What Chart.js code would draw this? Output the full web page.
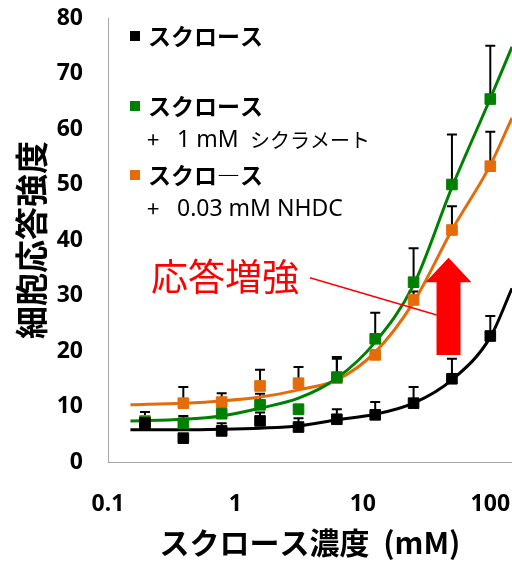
<!DOCTYPE html>
<html>
<head>
<meta charset="utf-8">
<script src="https://cdn.jsdelivr.net/npm/chart.js@4"></script>
<style>
  html, body { margin: 0; padding: 0; background: #fff; }
  #wrap { width: 512px; height: 564px; }
</style>
</head>
<body>
<div id="wrap"><canvas id="chart" width="512" height="564"></canvas></div>
<script>
// measured points (mM)
const conc = [0.195, 0.39, 0.78, 1.56, 3.125, 6.25, 12.5, 25, 50, 100];
const sucrose = [7.0, 4.3, 5.6, 7.4, 6.3, 7.7, 8.5, 10.6, 15.0, 22.7];
const sucroseErr = [2.0, 0, 1.4, 1.5, 1.6, 1.8, 2.3, 2.9, 3.6, 3.6];
const cyclamate = [7.2, 7.0, 8.7, 10.3, 9.5, 15.3, 22.2, 32.4, 50.0, 65.4];
const cyclamateErr = [0, 1.3, 1.2, 2.0, 0.8, 3.3, 4.7, 6.1, 9.0, 9.6];
const nhdc = [7.4, 10.6, 10.8, 13.7, 14.2, 15.1, 19.3, 29.2, 41.8, 53.3];
const nhdcErr = [0.8, 2.9, 1.6, 2.9, 2.9, 3.8, 0, 1.5, 4.3, 6.2];

// fitted curves
const fitConc = [0.15, 0.39, 0.78, 1.56, 3.125, 6.25, 12.5, 25, 50, 100, 148];
const sucroseFit = [5.8, 5.8, 5.9, 6.1, 6.5, 7.6, 8.6, 10.6, 14.8, 22.5, 31.3];
const cyclamateFit = [7.4, 7.7, 8.3, 9.7, 11.5, 15.1, 21.6, 31.9, 49.5, 65.5, 74.8];
const nhdcFit = [10.3, 10.6, 11.0, 11.7, 13.0, 14.8, 19.8, 28.8, 41.8, 53.5, 62];

const xTicks = [0.1, 1, 10, 100];
const legendLabels = [
    ['スクロース', '', ''],
    ['スクロース', '1 mM', 'シクラメート'],
    ['スクロ―ス', '0.03 mM NHDC', '']
];

// annotation anchor (data coords)
const arrowX = 47, arrowFrom = 19.3, arrowHead = 32.4, arrowTip = 36.8;
const noteText = '応答増強';
const notePos = [0.83, 33.3];
const noteLine = [[3.84, 33.2], [38, 26.5]];

const BLACK = '#000000', GREEN = '#008000', ORANGE = '#E46C0A';
const JP = '"Noto Sans CJK JP", "Noto Sans", sans-serif';

function pts(xs, ys) {
    return xs.map(function (x, i) { return { x: x, y: ys[i] }; });
}

function markerSet(ys, color, order) {
    return {
        data: pts(conc, ys), showLine: false, pointStyle: 'rect',
        pointRadius: 7.5, pointHoverRadius: 7.5, borderWidth: 1,
        backgroundColor: color, borderColor: color, order: order
    };
}
function curveSet(ys, color, order) {
    return {
        data: pts(fitConc, ys), showLine: true, pointRadius: 0,
        borderColor: color, borderWidth: 3, cubicInterpolationMode: 'monotone',
        fill: false, order: order
    };
}

const errSets = [[0, sucroseErr], [1, cyclamateErr], [2, nhdcErr]];

// stretch the plot to the right edge of the canvas
const fullWidth = {
    id: 'fullWidth',
    afterLayout(chart) {
        const x = chart.scales.x;
        chart.chartArea.right = chart.width;
        chart.chartArea.width = chart.width - chart.chartArea.left;
        x.right = chart.width;
        x.width = x.right - x.left;
        x.configure();
    }
};

const errorBars = {
    id: 'errorBars',
    beforeDatasetsDraw(chart) {
        const ctx = chart.ctx, xs = chart.scales.x, ys = chart.scales.y;
        ctx.save();
        ctx.strokeStyle = '#000';
        ctx.lineWidth = 2;
        errSets.forEach(function (e) {
            const data = chart.data.datasets[e[0]].data;
            e[1].forEach(function (err, i) {
                if (!err) return;
                const px = xs.getPixelForValue(data[i].x);
                const y0 = ys.getPixelForValue(data[i].y);
                const y1 = ys.getPixelForValue(data[i].y + err);
                ctx.beginPath();
                ctx.moveTo(px, y0); ctx.lineTo(px, y1);
                ctx.moveTo(px - 5, y1); ctx.lineTo(px + 5, y1);
                ctx.stroke();
            });
        });
        ctx.restore();
    }
};

const extras = {
    id: 'extras',
    afterDatasetsDraw(chart) {
        const ctx = chart.ctx, xs = chart.scales.x, ys = chart.scales.y;
        const area = chart.chartArea;
        ctx.save();

        // legend
        const colors = [BLACK, GREEN, ORANGE];
        const rowY = [36, 106, 175];
        ctx.textBaseline = 'middle';
        legendLabels.forEach(function (lab, i) {
            const y = rowY[i];
            ctx.fillStyle = colors[i];
            ctx.fillRect(area.left + 22, y - 5, 10, 10);
            ctx.fillStyle = '#000';
            ctx.font = 'bold 23px ' + JP;
            ctx.fillText(lab[0], area.left + 40, y);
            if (lab[1]) {
                ctx.font = '22px ' + JP;
                ctx.fillText('+', area.left + 39, y + 34);
                ctx.font = '23px "Noto Sans", sans-serif';
                ctx.fillText(lab[1], area.left + 69, y + 34);
            }
            if (lab[2]) {
                ctx.font = '20px ' + JP;
                ctx.fillText(lab[2], area.left + 142, y + 34);
            }
        });

        // red pointer line and text
        ctx.strokeStyle = '#FF0000';
        ctx.lineWidth = 1.5;
        ctx.beginPath();
        ctx.moveTo(xs.getPixelForValue(noteLine[0][0]), ys.getPixelForValue(noteLine[0][1]));
        ctx.lineTo(xs.getPixelForValue(noteLine[1][0]), ys.getPixelForValue(noteLine[1][1]));
        ctx.stroke();
        ctx.fillStyle = '#FF0000';
        ctx.font = '37px ' + JP;
        ctx.textAlign = 'center';
        ctx.fillText(noteText, xs.getPixelForValue(notePos[0]), ys.getPixelForValue(notePos[1]));

        // big up arrow
        const ax = xs.getPixelForValue(arrowX);
        const yb = ys.getPixelForValue(arrowFrom);
        const yh = ys.getPixelForValue(arrowHead);
        const yt = ys.getPixelForValue(arrowTip);
        ctx.beginPath();
        ctx.moveTo(ax - 12, yb);
        ctx.lineTo(ax - 12, yh);
        ctx.lineTo(ax - 23, yh);
        ctx.lineTo(ax, yt);
        ctx.lineTo(ax + 23, yh);
        ctx.lineTo(ax + 12, yh);
        ctx.lineTo(ax + 12, yb);
        ctx.closePath();
        ctx.fill();
        ctx.restore();
    }
};

function noPad(scale) {
    scale.paddingLeft = 0;
    scale.paddingRight = 0;
    scale.paddingTop = 0;
    scale.paddingBottom = 0;
}

new Chart(document.getElementById('chart'), {
    type: 'scatter',
    data: {
        datasets: [
            markerSet(sucrose, BLACK, 1),
            markerSet(cyclamate, GREEN, 2),
            markerSet(nhdc, ORANGE, 3),
            curveSet(sucroseFit, BLACK, 4),
            curveSet(cyclamateFit, GREEN, 5),
            curveSet(nhdcFit, ORANGE, 6)
        ]
    },
    options: {
        responsive: false,
        animation: false,
        events: [],
        layout: { padding: { top: 18, right: 0, left: 0, bottom: 0 } },
        plugins: { legend: { display: false }, tooltip: { enabled: false } },
        scales: {
            x: {
                type: 'logarithmic',
                min: 0.1,
                max: 148,
                afterBuildTicks: function (scale) {
                    scale.ticks = xTicks.map(function (v) { return { value: v }; });
                },
                afterFit: function (scale) { scale.height = 102; noPad(scale); },
                grid: { display: false, drawTicks: false },
                border: { color: '#A6A6A6', width: 1 },
                ticks: {
                    padding: 29, color: '#000', maxRotation: 0, autoSkip: false,
                    font: { family: '"Noto Sans", sans-serif', size: 23, weight: 'bold' },
                    callback: function (v) { return String(v); }
                },
                title: {
                    display: true, text: 'スクロース濃度  (mM)', color: '#000',
                    font: { family: JP, size: 30, weight: 'bold' },
                    padding: { top: 0, bottom: 3 }
                }
            },
            y: {
                min: 0,
                max: 80,
                afterFit: function (scale) { scale.width = 108; noPad(scale); },
                grid: { display: false, drawTicks: false },
                border: { color: '#A6A6A6', width: 1 },
                ticks: {
                    stepSize: 10, padding: 25, color: '#000',
                    font: { family: '"Noto Sans", sans-serif', size: 23, weight: 'bold' }
                },
                title: {
                    display: true, text: '細胞応答強度', color: '#000',
                    font: { family: JP, size: 33, weight: 'bold' },
                    padding: { top: 12, bottom: 0 }
                }
            }
        }
    },
    plugins: [fullWidth, errorBars, extras]
});
</script>
</body>
</html>
